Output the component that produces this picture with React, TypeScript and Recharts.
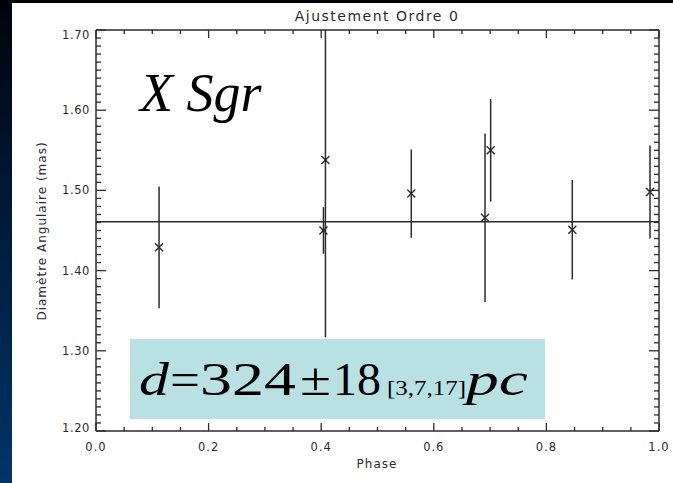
import { ComposedChart, Scatter, ErrorBar, XAxis, YAxis, ReferenceLine } from "recharts";

// Measured angular diameters of X Sgr against pulsation phase
const phase = [0.112, 0.404, 0.4075, 0.56, 0.691, 0.701, 0.846, 0.984];
const diameter = [1.429, 1.45, 1.538, 1.496, 1.466, 1.55, 1.451, 1.498];
const sigma = [0.076, 0.029, 0.221, 0.055, 0.105, 0.064, 0.062, 0.058];

// order-0 fit: constant diameter
const fitDiameter = 1.461;

const xMajor = [0, 0.2, 0.4, 0.6, 0.8, 1.0];
const yMajor = [1.2, 1.3, 1.4, 1.5, 1.6, 1.7];

const xTicks = Array.from({ length: 21 }, (_, i) => +(i * 0.05).toFixed(2));
const yTicks = Array.from({ length: 51 }, (_, i) => +(1.2 + i * 0.01).toFixed(2));

const W = 673;
const H = 483;
const LEFT_AXIS = 60;
const RIGHT_AXIS = 14;
const TOP_AXIS = 30;
const BOTTOM_AXIS = 52;
const MARGIN_LEFT = 36;
const plot = {
  x: MARGIN_LEFT + LEFT_AXIS,
  y: TOP_AXIS,
  w: W - MARGIN_LEFT - LEFT_AXIS - RIGHT_AXIS,
  h: H - TOP_AXIS - BOTTOM_AXIS,
};

const ink = "#2b2b2b";
const labelFont = "'DejaVu Sans', sans-serif";
const serif = "'Liberation Serif', 'Times New Roman', serif";

const rows = phase.map((p, i) => ({ phase: p, diameter: diameter[i], sigma: sigma[i] }));

const isMajor = (v: number, majors: number[]) => majors.some((m) => Math.abs(m - v) < 1e-6);

function BottomTick({ x, y, payload }: any) {
  const major = isMajor(payload.value, xMajor);
  return (
    <g>
      <line x1={x} x2={x} y1={y} y2={y - (major ? 8 : 4)} stroke={ink} strokeWidth={1.3} />
      {major && (
        <text x={x} y={y + 20} textAnchor="middle" fontFamily={labelFont} fontSize={11.5} letterSpacing={1} fill={ink}>
          {payload.value.toFixed(1)}
        </text>
      )}
    </g>
  );
}

function TopTick({ x, y, payload }: any) {
  const major = isMajor(payload.value, xMajor);
  return <line x1={x} x2={x} y1={y} y2={y + (major ? 8 : 4)} stroke={ink} strokeWidth={1.3} />;
}

function LeftTick({ x, y, payload }: any) {
  const major = isMajor(payload.value, yMajor);
  // end labels sit slightly inside the frame
  const shift = payload.value >= 1.7 ? 5 : payload.value <= 1.2 ? -3 : 0;
  return (
    <g>
      <line x1={x} x2={x + (major ? 10 : 5)} y1={y} y2={y} stroke={ink} strokeWidth={1.3} />
      {major && (
        <text x={x - 6} y={y + 4 + shift} textAnchor="end" fontFamily={labelFont} fontSize={11.5} letterSpacing={0.6} fill={ink}>
          {payload.value.toFixed(2)}
        </text>
      )}
    </g>
  );
}

function RightTick({ x, y, payload }: any) {
  const major = isMajor(payload.value, yMajor);
  return <line x1={x} x2={x - (major ? 10 : 5)} y1={y} y2={y} stroke={ink} strokeWidth={1.3} />;
}

function CrossMark({ cx, cy }: any) {
  const r = 4;
  return (
    <g stroke={ink} strokeWidth={1.4}>
      <line x1={cx - r} y1={cy - r} x2={cx + r} y2={cy + r} />
      <line x1={cx - r} y1={cy + r} x2={cx + r} y2={cy - r} />
    </g>
  );
}

export default function App() {
  return (
    <div
      style={{
        position: "absolute",
        left: 0,
        top: 0,
        width: W,
        height: H,
        overflow: "hidden",
        background: "linear-gradient(180deg, #000308 0%, #00132b 30%, #002248 62%, #00356a 100%)",
      }}
    >
      {/* error bars running past the frame are cut at the plot edge */}
      <style>{`.recharts-errorBar { clip-path: url(#plot-area); }`}</style>
      <svg width={0} height={0} style={{ position: "absolute" }}>
        <defs>
          <clipPath id="plot-area">
            <rect x={plot.x} y={plot.y} width={plot.w} height={plot.h} />
          </clipPath>
        </defs>
      </svg>

      <div style={{ position: "absolute", left: 12, top: 3, right: 0, bottom: 0, background: "#ffffff" }} />

      <div style={{ position: "absolute", left: 0, top: 0 }}>
        <ComposedChart width={W} height={H} data={rows} margin={{ top: 0, right: 0, bottom: 0, left: MARGIN_LEFT }}>
          <XAxis
            xAxisId={0}
            dataKey="phase"
            type="number"
            domain={[0, 1]}
            ticks={xTicks}
            interval={0}
            allowDataOverflow
            height={BOTTOM_AXIS}
            tickSize={0}
            tickMargin={0}
            tickLine={false}
            axisLine={{ stroke: ink, strokeWidth: 1.5 }}
            tick={<BottomTick />}
          />
          <XAxis
            xAxisId="top"
            orientation="top"
            dataKey="phase"
            type="number"
            domain={[0, 1]}
            ticks={xTicks}
            interval={0}
            allowDataOverflow
            height={TOP_AXIS}
            tickSize={0}
            tickMargin={0}
            tickLine={false}
            axisLine={{ stroke: ink, strokeWidth: 1.5 }}
            tick={<TopTick />}
          />
          <YAxis
            yAxisId={0}
            dataKey="diameter"
            type="number"
            domain={[1.2, 1.7]}
            ticks={yTicks}
            interval={0}
            allowDataOverflow
            width={LEFT_AXIS}
            tickSize={0}
            tickMargin={0}
            tickLine={false}
            axisLine={{ stroke: ink, strokeWidth: 1.5 }}
            tick={<LeftTick />}
          />
          <YAxis
            yAxisId="right"
            orientation="right"
            dataKey="diameter"
            type="number"
            domain={[1.2, 1.7]}
            ticks={yTicks}
            interval={0}
            allowDataOverflow
            width={RIGHT_AXIS}
            tickSize={0}
            tickMargin={0}
            tickLine={false}
            axisLine={{ stroke: ink, strokeWidth: 1.5 }}
            tick={<RightTick />}
          />
          <ReferenceLine y={fitDiameter} stroke={ink} strokeWidth={1.5} ifOverflow="hidden" />
          <Scatter dataKey="diameter" shape={<CrossMark />} isAnimationActive={false}>
            <ErrorBar dataKey="sigma" direction="y" width={0} stroke={ink} strokeWidth={1.5} isAnimationActive={false} />
          </Scatter>
        </ComposedChart>
      </div>

      <svg width={W} height={H} style={{ position: "absolute", left: 0, top: 0, pointerEvents: "none" }}>
        <text x={377} y={21} textAnchor="middle" fontFamily={labelFont} fontSize={14} letterSpacing={1.5} fill={ink}>
          Ajustement Ordre 0
        </text>
        <text x={377} y={468} textAnchor="middle" fontFamily={labelFont} fontSize={12} letterSpacing={1} fill={ink}>
          Phase
        </text>
        <text
          transform="translate(42,231) rotate(-90)"
          textAnchor="middle"
          dominantBaseline="central"
          fontFamily={labelFont}
          fontSize={12}
          letterSpacing={1}
          fill={ink}
        >
          Diamètre Angulaire (mas)
        </text>

        <text x={140} y={111} fontFamily={serif} fontStyle="italic" fontSize={54} fill="#000">
          X Sgr
        </text>

        <rect x={130} y={339} width={415} height={80} fill="#b9e0e3" />
        <g fontFamily={serif} fill="#000">
          <text x={139} y={395} fontSize={46} fontStyle="italic" textLength={30} lengthAdjust="spacingAndGlyphs">d</text>
          <text x={170} y={395} fontSize={46} textLength={30} lengthAdjust="spacingAndGlyphs">=</text>
          <text x={200} y={395} fontSize={46} textLength={96} lengthAdjust="spacingAndGlyphs">324</text>
          <text x={300} y={395} fontSize={46} textLength={31} lengthAdjust="spacingAndGlyphs">±</text>
          <text x={333} y={395} fontSize={46} textLength={48} lengthAdjust="spacingAndGlyphs">18</text>
          <text x={387} y={395} fontSize={20} textLength={79} lengthAdjust="spacingAndGlyphs">[3,7,17]</text>
          <text x={466} y={395} fontSize={46} fontStyle="italic" textLength={62} lengthAdjust="spacingAndGlyphs">pc</text>
        </g>
      </svg>
    </div>
  );
}
